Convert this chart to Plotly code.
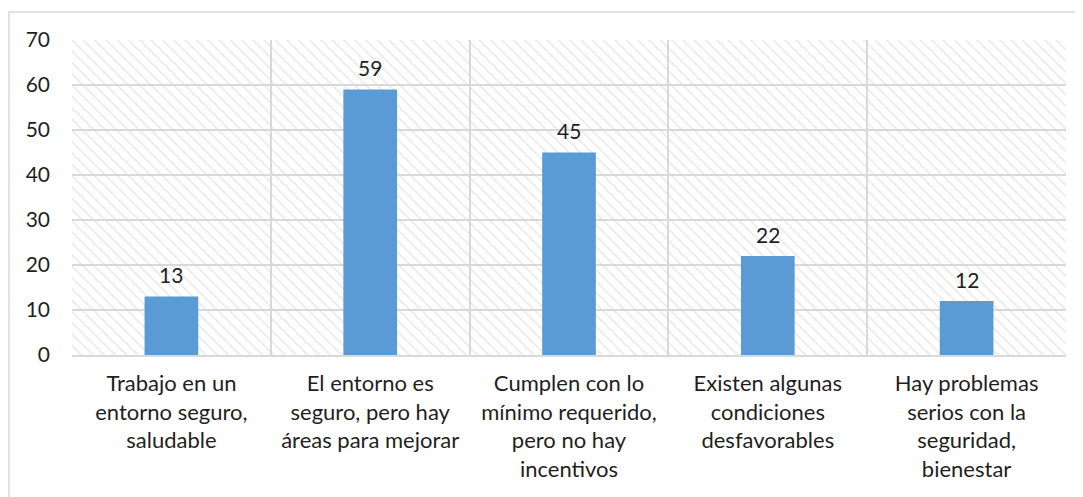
import plotly.graph_objects as go

categories = [
    "Trabajo en un<br>entorno seguro,<br>saludable",
    "El entorno es<br>seguro, pero hay<br>áreas para mejorar",
    "Cumplen con lo<br>mínimo requerido,<br>pero no hay<br>incentivos",
    "Existen algunas<br>condiciones<br>desfavorables",
    "Hay problemas<br>serios con la<br>seguridad,<br>bienestar",
]
values = [13, 59, 45, 22, 12]
y_max = 70
y_ticks = [0, 10, 20, 30, 40, 50, 60, 70]

FONT = "Lato, Open Sans, sans-serif"
GRID = "#d9d9d9"
TXT = "#1f1f1f"

L, T, W, H = 64, 32, 994, 315
FIG_W, FIG_H = 1083, 497

fig = go.Figure()

# hatched plot-area background
fig.add_trace(go.Bar(
    x=categories, y=[y_max] * len(categories), width=1,
    marker=dict(color="rgba(0,0,0,0)", line=dict(width=0),
                pattern=dict(shape="\\", fgcolor="#d6d6d6", bgcolor="rgba(0,0,0,0)",
                             size=8, solidity=0.22)),
    hoverinfo="skip", showlegend=False,
))

fig.add_trace(go.Bar(
    x=categories, y=values, width=0.27,
    marker=dict(color="#5B9BD5", line=dict(width=0)),
    showlegend=False,
))

for c, v in zip(categories, values):
    fig.add_annotation(x=c, y=v, text=str(v), showarrow=False, yshift=22,
                       font=dict(family=FONT, size=21, color=TXT))

fig.add_shape(type="rect", xref="paper", yref="paper",
              x0=(1 - L) / W, x1=1.05, y0=-0.7, y1=(T + H - 4) / H,
              line=dict(color=GRID, width=1.5), fillcolor="rgba(0,0,0,0)", layer="below")

fig.update_layout(
    width=FIG_W, height=FIG_H,
    margin=dict(l=L, r=FIG_W - L - W, t=T, b=FIG_H - T - H),
    paper_bgcolor="white", plot_bgcolor="white",
    barmode="overlay",
    font=dict(family=FONT, size=21, color=TXT),
    xaxis=dict(type="category", tickson="boundaries", showgrid=True, gridcolor=GRID,
               gridwidth=1.5, ticks="", showline=True, linecolor=GRID, linewidth=1.5,
               ticklabelstandoff=8,
               tickfont=dict(family=FONT, size=22, color=TXT), fixedrange=True),
    yaxis=dict(range=[0, y_max], tickvals=y_ticks, showgrid=True, gridcolor=GRID,
               gridwidth=1.5, zeroline=False, showline=False, ticks="",
               ticklabelstandoff=21,
               tickfont=dict(family=FONT, size=21, color=TXT), fixedrange=True),
)

fig.write_html("out.html")
